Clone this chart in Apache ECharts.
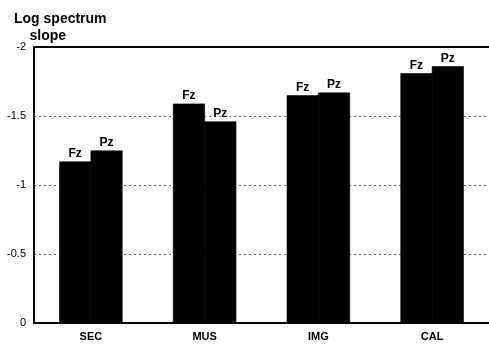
<!DOCTYPE html>
<html>
<head>
<meta charset="utf-8">
<script src="https://cdn.jsdelivr.net/npm/echarts@6/dist/echarts.min.js"></script>
<style>
  html, body { margin: 0; padding: 0; background: #fff; }
  #chart { width: 489px; height: 346px; }
</style>
</head>
<body>
<div id="chart"></div>
<script>
// Task conditions on the x axis
const categories = ['SEC', 'MUS', 'IMG', 'CAL'];
// Log spectrum slope per electrode
const fzValues = [-1.17, -1.59, -1.65, -1.81];
const pzValues = [-1.25, -1.46, -1.67, -1.86];
const seriesNames = ['Fz', 'Pz'];
const yTicks = [0, -0.5, -1, -1.5, -2];

const font = '"Liberation Sans", Arial, sans-serif';

const chart = echarts.init(document.getElementById('chart'), null, { renderer: 'canvas' });

function barSeries(name, values) {
  return {
    name: name,
    type: 'bar',
    data: values,
    barWidth: 32,
    barGap: '-2%',
    itemStyle: { color: '#000', borderColor: '#000', borderWidth: 0.6 },
    label: {
      show: true,
      position: 'top',
      distance: 2,
      formatter: name,
      fontFamily: font,
      fontWeight: 'bold',
      fontSize: 12,
      color: '#000'
    }
  };
}

chart.setOption({
  animation: false,
  backgroundColor: '#fff',
  title: {
    text: 'Log spectrum\n    slope',
    left: 9,
    top: 6,
    textStyle: {
      fontFamily: font,
      fontWeight: 'bold',
      fontSize: 14,
      lineHeight: 17,
      color: '#000'
    }
  },
  grid: {
    left: 34,
    right: -3,
    top: 47,
    bottom: 23
  },
  xAxis: [
    {
      type: 'category',
      data: categories,
      axisLine: { show: true, lineStyle: { color: '#000', width: 2 } },
      axisTick: { show: false },
      axisLabel: {
        fontFamily: font,
        fontSize: 11,
        fontWeight: 'bold',
        color: '#000',
        margin: 8
      }
    },
    {
      // top frame line of the plot area
      type: 'category',
      data: categories,
      position: 'top',
      axisLine: { show: true, lineStyle: { color: '#000', width: 2 } },
      axisTick: { show: false },
      axisLabel: { show: false }
    }
  ],
  yAxis: {
    type: 'value',
    min: -2,
    max: 0,
    interval: 0.5,
    inverse: true,
    axisLine: { show: true, lineStyle: { color: '#000', width: 2 } },
    axisTick: { show: false },
    axisLabel: {
      fontFamily: font,
      fontSize: 11,
      color: '#000',
      margin: 8,
      formatter: function (v) {
        return yTicks.indexOf(v) >= 0 ? String(v) : '';
      }
    },
    splitLine: {
      show: true,
      lineStyle: { color: '#666', type: [2, 3], width: 1 }
    }
  },
  series: [
    barSeries(seriesNames[0], fzValues),
    barSeries(seriesNames[1], pzValues)
  ]
});
</script>
</body>
</html>
